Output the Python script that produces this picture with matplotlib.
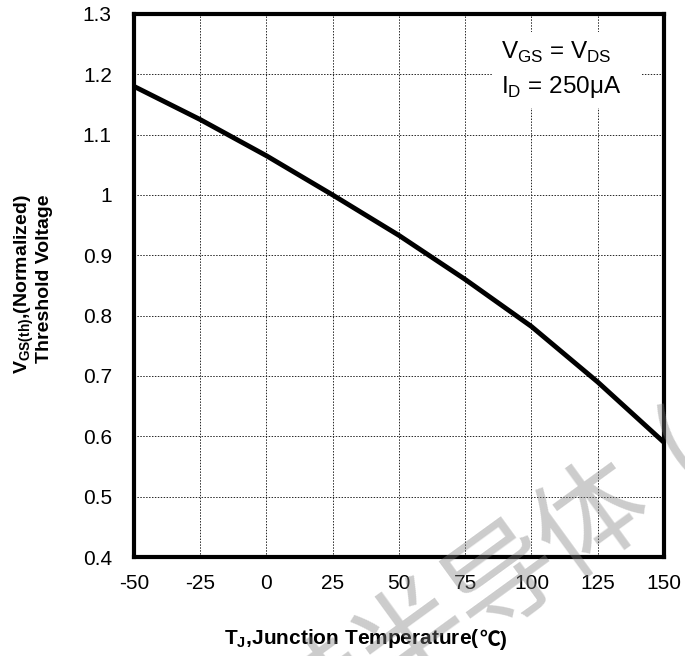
import matplotlib
matplotlib.use('Agg')
import matplotlib.pyplot as plt
from matplotlib.patches import Rectangle

plt.rcParams['font.family'] = ['Liberation Sans', 'Noto Sans CJK SC', 'DejaVu Sans']
plt.rcParams['mathtext.fontset'] = 'custom'
plt.rcParams['mathtext.rm'] = 'Liberation Sans'

# junction temperature (C) vs normalized threshold voltage
temp = [-50, -25, 0, 25, 50, 75, 100, 125, 150]
vth = [1.18, 1.125, 1.065, 1.0, 0.933, 0.86, 0.782, 0.69, 0.59]

xticks = [-50, -25, 0, 25, 50, 75, 100, 125, 150]
yticks = [0.4, 0.5, 0.6, 0.7, 0.8, 0.9, 1.0, 1.1, 1.2, 1.3]
ylabels = ['0.4', '0.5', '0.6', '0.7', '0.8', '0.9', '1', '1.1', '1.2', '1.3']

W, H = 685, 656
fig = plt.figure(figsize=(W / 100, H / 100), dpi=100)
ax = fig.add_axes([0.1956, 0.1509, 0.7737, 0.8278])

ax.plot(temp, vth, color='black', lw=3.5, solid_capstyle='butt', zorder=4)

ax.set_xlim(-50, 150)
ax.set_ylim(0.4, 1.3)
ax.set_xticks(xticks)
ax.set_xticklabels([str(t) for t in xticks])
ax.set_yticks(yticks)
ax.set_yticklabels(ylabels)
ax.tick_params(axis='x', length=0, pad=12, labelsize=15)
ax.tick_params(axis='y', length=0, pad=16, labelsize=15)
ax.grid(True, color='0.15', lw=0.7, linestyle=(0, (1.5, 1.5)))
ax.set_axisbelow(True)
for s in ax.spines.values():
    s.set_linewidth(3)
    s.set_zorder(5)

# condition note with a white patch behind it
ax.add_patch(Rectangle((0.677, 0.827), 0.281, 0.14, transform=ax.transAxes,
                       facecolor='white', edgecolor='none', zorder=2))
ax.text(88.5, 1.2254, r'V$_{\mathregular{GS}}$ = V$_{\mathregular{DS}}$',
        fontsize=17.5, va='baseline', zorder=3)
ax.text(88.5, 1.169, r'I$_{\mathregular{D}}$ = 250μA',
        fontsize=17.5, va='baseline', zorder=3)

# x label: mathtext part, then the degree sign part in a plain text
xl = fig.text(224 / W, 1 - 644 / H, r'T$_{\mathregular{J}}$,Junction Temperature(',
              fontsize=15, fontweight='bold', ha='left', va='baseline')
ax.annotate('℃)', xy=(1, 0), xycoords=xl, ha='left', va='bottom',
            fontsize=15, fontweight='bold', annotation_clip=False)

# y label, two lines
fig.text(24 / W, 1 - 284 / H, r'V$_{\mathregular{GS(th)}}$,(Normalized)',
         fontsize=14, fontweight='bold', rotation=90, ha='center', va='center')
fig.text(45 / W, 1 - 279 / H, 'Threshold Voltage',
         fontsize=14, fontweight='bold', rotation=90, ha='center', va='center')

# watermark
wm = ['赫', '半', '导', '体', '(']
wm_xy = [(323, 700), (413, 640), (503, 580), (593, 520), (683, 450)]
for ch, (px, py) in zip(wm, wm_xy):
    fig.text(px / W, 1 - py / H, ch, fontsize=80, color='0.5', alpha=0.4,
             rotation=36, ha='center', va='center', rotation_mode='anchor',
             family=['Noto Sans CJK SC'], zorder=10)

fig.savefig('out.png', dpi=100)
